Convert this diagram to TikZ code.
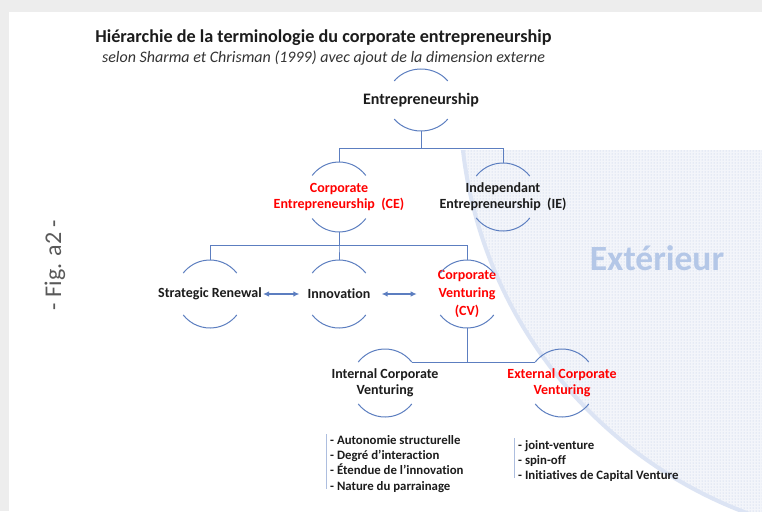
\documentclass[tikz,border=0pt]{standalone}
\usepackage{fontspec}
\setmainfont{Carlito}[Ligatures=NoCommon]
\usetikzlibrary{arrows.meta,patterns}

\definecolor{lineblue}{RGB}{92,126,192}
\definecolor{dotblue}{RGB}{185,198,228}
\definecolor{bandblue}{RGB}{220,228,244}
\definecolor{extblue}{RGB}{180,199,231}
\definecolor{ink}{RGB}{28,28,28}

\begin{document}
\begin{tikzpicture}
    [x=1pt, y=1pt, every node/.style={inner sep=2pt, text=ink},
     term/.style={font=\fontsize{14}{16}\selectfont\bfseries, align=center},
     hot/.style={term, text=red},
     ring/.style={draw=lineblue, line width=1pt},
     link/.style={draw=lineblue, line width=1pt},
     swap/.style={draw=lineblue, line width=1.5pt, {Latex[length=6pt,width=5.5pt]}-{Latex[length=6pt,width=5.5pt]}},
     items/.style={font=\fontsize{12.8}{15.3}\selectfont\bfseries, align=left, inner sep=4pt},
     bar/.style={draw=lineblue!50, line width=.8pt}]
    \useasboundingbox (0,0) rectangle (762,-511);
    \fill[black!7] (0,0) rectangle (762,-511);
    \fill[white] (9,-12) rectangle (762,-511);

    % outside zone
    \begin{scope}
      \clip (400,-150) rectangle (762,-511);
      \fill[dotblue!18] (902,-99) circle[radius=442];
      \fill[pattern=dots, pattern color=dotblue] (902,-99) circle[radius=442];
      \draw[bandblue, line width=4pt] (902,-99) circle[radius=442];
    \end{scope}
    \node[font=\fontsize{35.5}{36}\selectfont\bfseries, text=extblue] (ext) at (657,-258) {Extérieur};

    % titles
    \node[font=\fontsize{18.2}{18}\selectfont\bfseries] (t1) at (323.5,-38) {Hiérarchie de la terminologie du corporate entrepreneurship};
    \node[font=\fontsize{16}{16}\selectfont\itshape, text=black!80] (t2) at (323.5,-58) {selon Sharma et Chrisman (1999) avec ajout de la dimension externe};
    \node[rotate=90, font=\fontsize{24}{24}\selectfont, text=black!65] (fig) at (55,-265) {- Fig. a2 -};

    % terms
    \node[term, font=\fontsize{16}{16}\selectfont\bfseries] (n1) at (421,-100) {Entrepreneurship};
    \node[hot] (n2) at (339,-197) {Corporate\\Entrepreneurship\ \ (CE)};
    \node[term] (n3) at (503,-197) {Independant\\Entrepreneurship\ \ (IE)};
    \node[term] (n4) at (210,-294) {Strategic Renewal};
    \node[term] (n5) at (339,-294) {Innovation};
    \node[hot, font=\fontsize{14}{18}\selectfont\bfseries] (n6) at (467,-294) {Corporate\\Venturing\\(CV)};
    \node[term] (n7) at (385,-383) {Internal Corporate\\Venturing};
    \node[hot] (n8) at (562,-383) {External Corporate\\Venturing};

    \foreach \n/\r in {n1/31, n2/35, n3/34, n4/34, n5/34, n6/34, n7/34, n8/34} {
      \draw[ring] ([shift={(38:34pt and \r pt)}]\n.center) arc[start angle=38, end angle=142, x radius=34pt, y radius=\r pt];
      \draw[ring] ([shift={(218:34pt and \r pt)}]\n.center) arc[start angle=218, end angle=322, x radius=34pt, y radius=\r pt];
      \coordinate (\n-t) at ([yshift=\r pt]\n.center);
      \coordinate (\n-b) at ([yshift=-\r pt]\n.center);
    }

    \foreach \from/\to/\d in {n1/n2/17, n1/n3/17, n2/n4/13, n2/n5/13, n2/n6/13}
      \draw[link] (\from-b) -- +(0,-\d) -| (\to-t);
    \draw[link] (n6-b) |- ([shift={(38:34pt)}]n7.center);
    \draw[link] (n6-b) |- ([shift={(142:34pt)}]n8.center);

    \draw[swap, shorten <=-1pt, shorten >=6pt] (n4.east) -- (n5.west);
    \draw[swap, shorten <=9pt, shorten >=19pt] (n5.east) -- (n6.west);

    % lists
    \node[items, anchor=north west] (l1) at (326,-431) {- Autonomie structurelle\\- Degré d’interaction\\- Étendue de l’innovation\\- Nature du parrainage};
    \node[items, anchor=north west] (l2) at (514,-436) {- joint-venture\\- spin-off\\- Initiatives de Capital Venture};
    \draw[bar, shorten <=3pt, shorten >=7pt] (l1.north west) -- (l1.south west);
    \draw[bar, shorten <=2pt, shorten >=8pt] (l2.north west) -- (l2.south west);
  \end{tikzpicture}
\end{document}
